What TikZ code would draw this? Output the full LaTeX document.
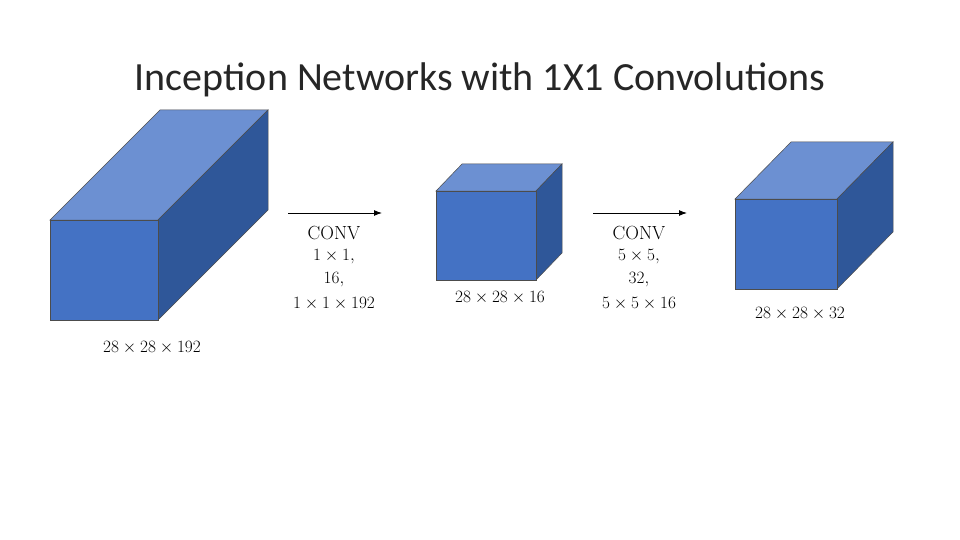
\documentclass[tikz,border=0pt]{standalone}
\usepackage{fontspec}
\usetikzlibrary{arrows.meta}
\newfontfamily\titlefont{Carlito}
\begin{document}
\begin{tikzpicture}[x=1pt,y=-1pt,
  front/.style={fill=cfront,draw=black!70,line width=0.5pt},
  topf/.style={fill=ctop,draw=black!70,line width=0.5pt},
  side/.style={fill=cside,draw=black!70,line width=0.5pt},
  lbl/.style={font=\fontsize{19}{22}\selectfont,inner sep=0pt},
  arr/.style={-{Latex[length=8pt,width=6pt]},line width=1pt}]
\definecolor{cfront}{HTML}{4472C4}
\definecolor{ctop}{HTML}{6C90D2}
\definecolor{cside}{HTML}{2F5799}
\useasboundingbox (0,0) rectangle (960,540);
\node[font=\titlefont\fontsize{40}{44}\selectfont,text=black!85] (title) at (480,80) {Inception Networks with 1X1 Convolutions};
% cube 1
\draw[topf] (50,220) -- (158,220) -- (268,110) -- (160,110) -- cycle;
\draw[side] (158,220) -- (268,110) -- (268,210) -- (158,320) -- cycle;
\draw[front] (50,220) rectangle (158,320);
% cube 2
\draw[topf] (436,191) -- (536,191) -- (562,164) -- (462,164) -- cycle;
\draw[side] (536,191) -- (562,164) -- (562,253) -- (536,280) -- cycle;
\draw[front] (436,191) rectangle (536,280);
% cube 3
\draw[topf] (735,199) -- (837,199) -- (893,142) -- (791,142) -- cycle;
\draw[side] (837,199) -- (893,142) -- (893,232) -- (837,289) -- cycle;
\draw[front] (735,199) rectangle (837,289);
% arrows
\coordinate (a1s) at (288,213); \coordinate (a1e) at (382,213);
\coordinate (a2s) at (593,213); \coordinate (a2e) at (687,213);
\draw[arr] (a1s) -- (a1e);
\draw[arr] (a2s) -- (a2e);
% labels
\node[lbl] (l1) at (152,348) {$28\times28\times192$};
\node[lbl] (l2) at (500,298) {$28\times28\times16$};
\node[lbl] (l3) at (800,314) {$28\times28\times32$};
\node[lbl] (c1a) at (334,233) {CONV};
\node[lbl] (c1b) at (334,257) {$1\times1,$};
\node[lbl] (c1c) at (334,280) {$16,$};
\node[lbl] (c1d) at (334,304) {$1\times1\times192$};
\node[lbl] (c2a) at (639,233) {CONV};
\node[lbl] (c2b) at (639,257) {$5\times5,$};
\node[lbl] (c2c) at (639,280) {$32,$};
\node[lbl] (c2d) at (639,304) {$5\times5\times16$};
\end{tikzpicture}
\end{document}
